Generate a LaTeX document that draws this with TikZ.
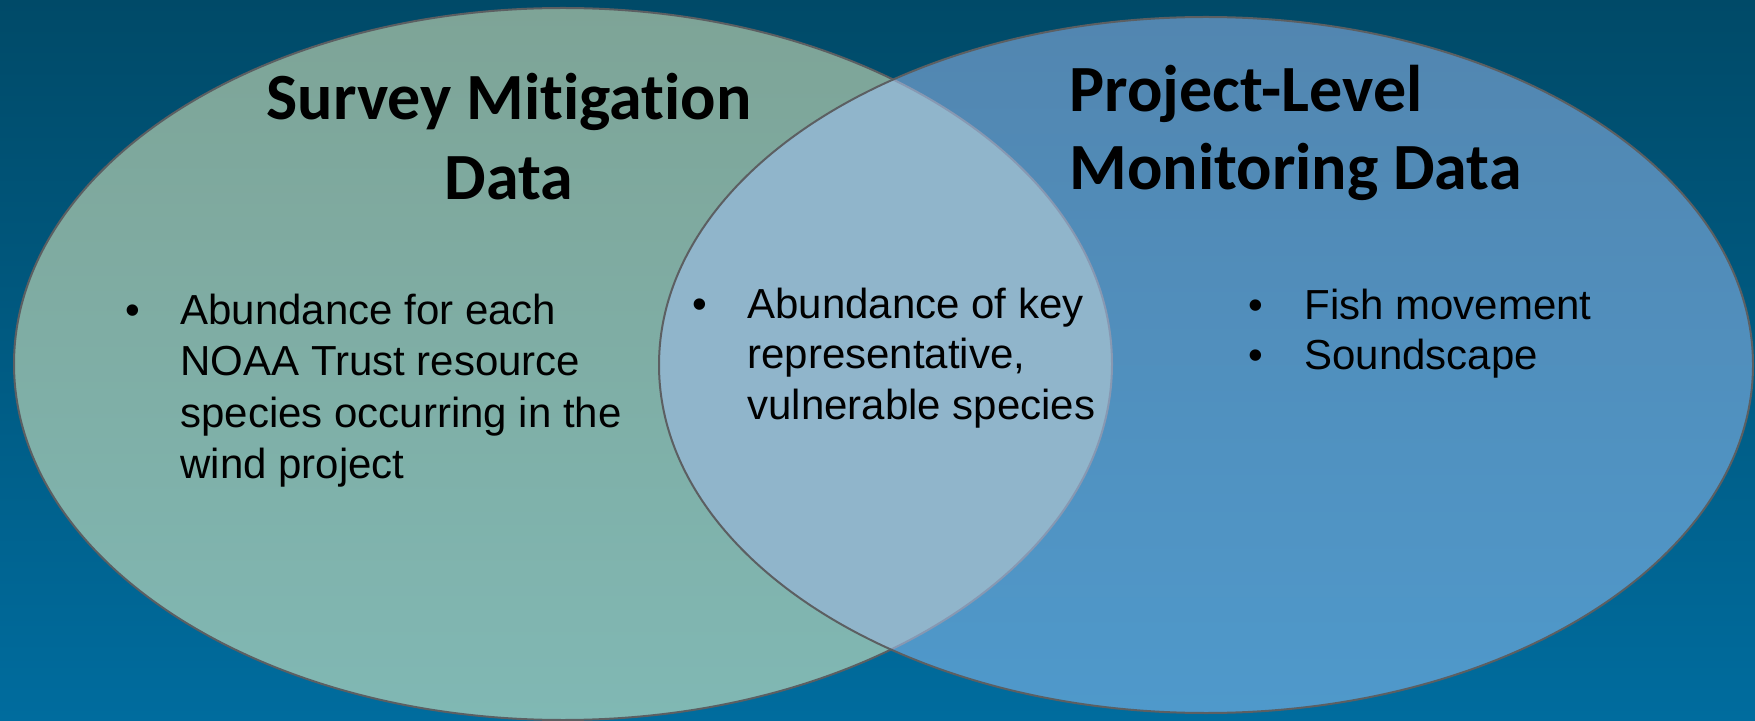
\documentclass[tikz,border=0pt]{standalone}
\usepackage{fontspec}
\setmainfont{Liberation Sans}
\newfontfamily\headfont[Ligatures=CommonOff]{Carlito}
\newfontfamily\bodyfont{Liberation Sans}

\definecolor{bgtop}{HTML}{004A68}
\definecolor{bgbot}{HTML}{006C9E}
\definecolor{lefttop}{HTML}{7EA497}
\definecolor{leftbot}{HTML}{80B8B4}
\definecolor{righttop}{HTML}{5286B0}
\definecolor{rightbot}{HTML}{4F99CB}
\definecolor{lensfill}{HTML}{90B5CB}
\definecolor{rimdark}{HTML}{5C5F62}
\definecolor{rimlight}{HTML}{8798B2}

\tikzset{
  headline/.style={font=\headfont\bfseries\fontsize{33}{39}\selectfont, text=black, inner sep=0pt},
  bodyline/.style={font=\bodyfont\fontsize{21}{25.5}\selectfont, text=black, inner sep=0pt, anchor=base west},
  dotmark/.style={font=\bodyfont\fontsize{21}{25.5}\selectfont, text=black, inner sep=0pt, anchor=base},
  rim/.style={draw=rimdark, line width=1pt},
}

\begin{document}
\begin{tikzpicture}[x=0.5pt, y=-0.5pt]
  \useasboundingbox (0,0) rectangle (1755,721);

  % backdrop
  \shade[top color=bgtop, bottom color=bgbot] (0,0) rectangle (1755,721);

  % left circle of the Venn diagram
  \shade[top color=lefttop, bottom color=leftbot] (563,364) ellipse [x radius=549, y radius=356];
  \draw[rim] (563,364) ellipse [x radius=549, y radius=356];

  % right circle
  \shade[top color=righttop, bottom color=rightbot] (1206,365) ellipse [x radius=547, y radius=348];

  % overlap region
  \begin{scope}
    \clip (1206,365) ellipse [x radius=547, y radius=348];
    \fill[lensfill] (563,364) ellipse [x radius=549, y radius=356];
    \draw[draw=rimlight, line width=1pt] (563,364) ellipse [x radius=549, y radius=356];
  \end{scope}
  \draw[rim] (1206,365) ellipse [x radius=547, y radius=348];

  % headings
  \node[headline, anchor=base] (hl1) at (509,120) {Survey Mitigation};
  \node[headline, anchor=base] (hl2) at (509,200) {Data};
  \node[headline, anchor=base west] (hr1) at (1069,112) {Project-Level};
  \node[headline, anchor=base west] (hr2) at (1069,190) {Monitoring Data};

  % left list
  \node[dotmark] (bl) at (133,325) {\textbullet};
  \node[bodyline] (l1) at (180,325) {Abundance for each};
  \node[bodyline] (l2) at (180,376) {NOAA Trust resource};
  \node[bodyline] (l3) at (180,427) {species occurring in the};
  \node[bodyline] (l4) at (180,478) {wind project};

  % shared list
  \node[dotmark] (bm) at (700,319) {\textbullet};
  \node[bodyline] (m1) at (747,319) {Abundance of key};
  \node[bodyline] (m2) at (747,369) {representative,};
  \node[bodyline] (m3) at (747,419) {vulnerable species};

  % right list
  \node[dotmark] (br1) at (1256,320) {\textbullet};
  \node[bodyline] (r1) at (1304,320) {Fish movement};
  \node[dotmark] (br2) at (1256,370) {\textbullet};
  \node[bodyline] (r2) at (1304,370) {Soundscape};
\end{tikzpicture}
\end{document}
